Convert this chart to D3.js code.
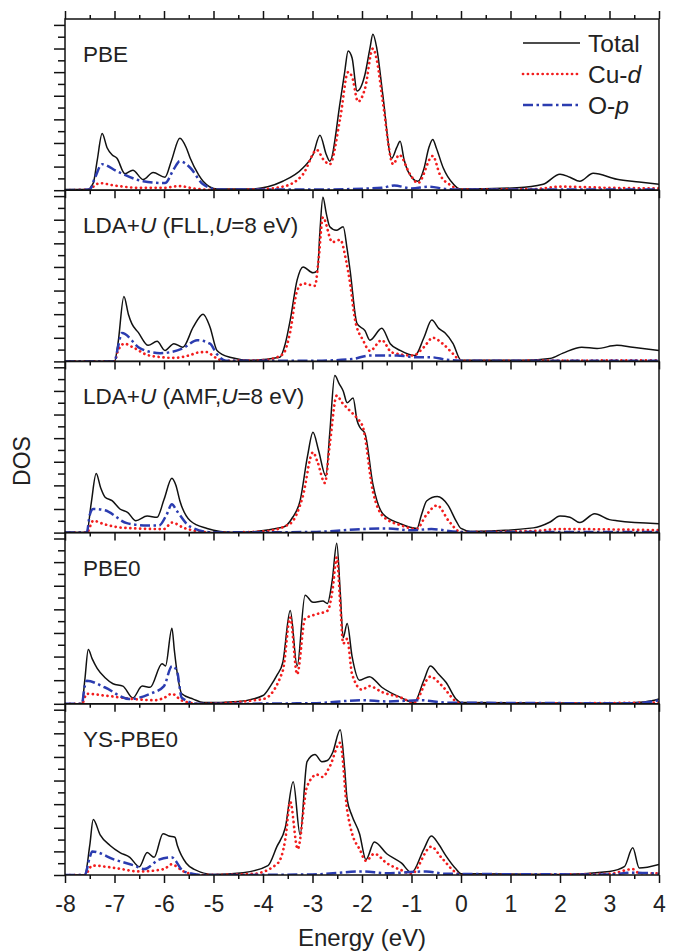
<!DOCTYPE html>
<html>
<head>
<meta charset="utf-8">
<script src="https://cdn.jsdelivr.net/npm/d3@7"></script>
<style>
body { margin: 0; background: #fff; overflow: hidden; }
</style>
</head>
<body>
<script>
// panel labels, [text, italic] segments
const panelLabels = [
    [["PBE", false]],
    [["LDA+", false], ["U", true], [" (FLL,", false], ["U", true], ["=8 eV)", false]],
    [["LDA+", false], ["U", true], [" (AMF,", false], ["U", true], ["=8 eV)", false]],
    [["PBE0", false]],
    [["YS-PBE0", false]]
];

const xTicks = [-8, -7, -6, -5, -4, -3, -2, -1, 0, 1, 2, 3, 4];

// [energy (eV), DOS]
const pbeTotal = [[-8,0.05],[-7.55,0.05],[-7.43,0.6],[-7.35,2.5],[-7.25,4.8],[-7.15,3.6],[-7.05,3.0],[-6.95,2.7],[-6.79,1.4],[-6.63,1.7],[-6.42,0.9],[-6.22,1.5],[-5.98,1.1],[-5.85,2.5],[-5.68,4.4],[-5.55,3.6],[-5.47,2.7],[-5.3,1.3],[-5.21,0.76],[-4.93,0.1],[-4.26,0.1],[-3.6,0.76],[-3.19,1.9],[-2.99,3.0],[-2.85,4.66],[-2.72,3.0],[-2.65,2.46],[-2.44,7.5],[-2.35,10],[-2.28,11.8],[-2.2,11.2],[-2.1,8.4],[-1.94,9.8],[-1.84,12],[-1.78,13.2],[-1.7,12],[-1.58,8.1],[-1.4,2.7],[-1.3,3.6],[-1.23,4.15],[-1.15,2.6],[-1.07,1.6],[-0.87,0.76],[-0.75,1.8],[-0.65,3.6],[-0.57,4.3],[-0.5,3.6],[-0.36,1.9],[-0.15,0.5],[-0.02,0.1],[1.13,0.2],[1.66,0.5],[2.0,1.36],[2.2,1.1],[2.4,0.76],[2.67,1.44],[3.15,0.93],[3.6,0.7],[4.0,0.5]];
const pbeCud = [[-8,0],[-7.5,0.05],[-7.4,0.4],[-7.3,0.6],[-7.0,0.4],[-6.5,0.2],[-6.0,0.2],[-5.7,0.35],[-5.4,0.15],[-5.0,0.02],[-4.2,0.05],[-3.6,0.3],[-3.19,1.36],[-2.91,3.4],[-2.78,2.6],[-2.65,2.2],[-2.44,6.1],[-2.28,10],[-2.2,9.6],[-2.08,7.5],[-1.94,8.6],[-1.78,12],[-1.7,11],[-1.58,7.5],[-1.37,2.2],[-1.25,3.0],[-1.03,1.36],[-0.87,0.6],[-0.57,2.9],[-0.43,1.36],[-0.2,0.4],[0,0.05],[1.5,0.1],[2.0,0.3],[3.0,0.2],[4.0,0.15]];
const pbeOp = [[-8,0],[-7.5,0.05],[-7.4,1.0],[-7.25,2.2],[-6.95,1.6],[-6.42,0.76],[-5.98,0.6],[-5.8,1.8],[-5.68,2.46],[-5.47,1.9],[-5.21,0.5],[-4.9,0.05],[-3,0.05],[-1.6,0.2],[-1.35,0.4],[-1.0,0.15],[-0.65,0.3],[-0.3,0.1],[0,0.05],[4,0.05]];

const fllTotal = [[-8,0],[-7.0,0],[-6.93,1.5],[-6.81,5.5],[-6.72,4.0],[-6.65,3.2],[-6.52,2.46],[-6.32,1.36],[-6.14,1.7],[-5.98,0.93],[-5.8,1.5],[-5.62,1.2],[-5.41,2.9],[-5.21,4.0],[-5.07,2.9],[-4.93,0.93],[-4.67,0.35],[-4.26,0.1],[-3.66,0.35],[-3.55,1.5],[-3.45,3.5],[-3.31,6.9],[-3.19,8.0],[-2.99,7.5],[-2.9,7.7],[-2.85,11],[-2.79,13.9],[-2.72,12.5],[-2.65,11.4],[-2.52,11.1],[-2.38,11.4],[-2.3,9.5],[-2.24,7.7],[-2.1,3.2],[-1.94,2.6],[-1.84,1.8],[-1.6,2.8],[-1.43,1.5],[-1.23,0.93],[-0.93,0.5],[-0.75,2.0],[-0.59,3.5],[-0.45,2.8],[-0.32,2.4],[-0.16,1.5],[0,0.1],[1.3,0.1],[1.8,0.25],[2.06,0.7],[2.44,1.2],[2.75,1.1],[3.15,1.36],[3.47,1.2],[4,0.93]];
const fllCud = [[-8,0],[-7.0,0],[-6.93,0.9],[-6.8,1.5],[-6.63,1.2],[-6.3,0.5],[-5.8,0.3],[-5.5,0.5],[-5.3,0.76],[-5.15,0.8],[-4.95,0.3],[-4.8,0.05],[-4.0,0.1],[-3.6,0.6],[-3.45,2.5],[-3.31,6.0],[-3.19,6.6],[-2.95,6.4],[-2.88,8.5],[-2.79,12.2],[-2.6,10.1],[-2.44,10.3],[-2.32,8.5],[-2.24,6.6],[-2.14,3.5],[-1.98,1.8],[-1.84,0.9],[-1.6,1.8],[-1.4,0.76],[-0.97,0.5],[-0.75,1.2],[-0.57,2.0],[-0.37,1.5],[-0.15,0.6],[0,0.05],[4,0.1]];
const fllOp = [[-8,0],[-7.0,0],[-6.93,1.2],[-6.85,2.4],[-6.48,1.1],[-6.08,0.7],[-5.62,1.1],[-5.33,1.8],[-5.07,1.5],[-4.93,0.6],[-4.75,0.05],[-3,0.05],[-2.2,0.2],[-1.84,0.5],[-1.3,0.5],[-0.9,0.35],[-0.6,0.35],[-0.3,0.15],[0,0.05],[4,0.05]];

const amfTotal = [[-8,0],[-7.56,0],[-7.47,2.5],[-7.37,5.0],[-7.28,3.8],[-7.19,3.0],[-7.05,2.7],[-6.89,2.0],[-6.73,1.7],[-6.57,1.0],[-6.34,1.4],[-6.14,1.3],[-6.0,2.8],[-5.84,4.6],[-5.76,4.0],[-5.68,2.7],[-5.47,1.0],[-5.13,0.35],[-4.6,0.0],[-3.6,0.45],[-3.4,1.3],[-3.25,2.7],[-3.1,6.5],[-2.99,8.5],[-2.88,7.0],[-2.73,4.8],[-2.65,8.5],[-2.55,13.3],[-2.46,12.6],[-2.38,12.0],[-2.3,11.0],[-2.18,11.4],[-2.1,9.5],[-2.04,8.9],[-1.94,8.4],[-1.78,4.1],[-1.58,1.6],[-1.23,0.76],[-0.89,0.35],[-0.8,1.5],[-0.69,2.7],[-0.48,3.05],[-0.26,2.3],[-0.1,1.0],[0,0.35],[0.2,0.1],[1.46,0.4],[1.8,0.9],[2.0,1.4],[2.2,1.3],[2.4,0.85],[2.7,1.6],[3.0,1.1],[3.15,1.0],[4,0.76]];
const amfCud = [[-8,0],[-7.56,0],[-7.43,1.0],[-7.2,0.7],[-6.8,0.4],[-6.0,0.3],[-5.84,0.85],[-5.6,0.4],[-5.3,0.1],[-5.0,0],[-4.0,0.1],[-3.45,0.76],[-3.2,3.0],[-2.99,6.8],[-2.9,6.0],[-2.75,4.2],[-2.65,7.5],[-2.51,11.6],[-2.4,11.0],[-2.24,10.3],[-2.1,9.7],[-1.98,8.9],[-1.78,3.5],[-1.58,1.4],[-1.2,0.6],[-0.9,0.3],[-0.7,1.5],[-0.48,2.3],[-0.25,1.0],[0,0.05],[1.5,0.15],[2.0,0.3],[4,0.2]];
const amfOp = [[-8,0],[-7.56,0],[-7.5,1.5],[-7.43,2.0],[-7.2,1.9],[-6.75,0.8],[-6.34,0.6],[-6.1,0.6],[-5.95,1.5],[-5.84,2.4],[-5.75,1.9],[-5.47,0.5],[-5.0,0.02],[-3,0.05],[-2.0,0.3],[-1.5,0.35],[-1.0,0.2],[-0.6,0.3],[0,0.05],[4,0.05]];

const pbe0Total = [[-8,0],[-7.66,0],[-7.6,2.0],[-7.53,4.6],[-7.45,3.8],[-7.35,3.0],[-7.19,2.2],[-7.03,1.7],[-6.83,1.5],[-6.63,0.5],[-6.44,1.5],[-6.28,1.4],[-6.04,3.4],[-5.97,3.2],[-5.84,6.4],[-5.79,4.5],[-5.74,2.8],[-5.64,0.85],[-5.41,0.4],[-5.2,0.1],[-4.5,0.2],[-4.0,0.7],[-3.85,1.5],[-3.72,2.4],[-3.6,3.5],[-3.45,7.9],[-3.31,3.2],[-3.15,9.2],[-2.99,8.6],[-2.79,8.7],[-2.7,8.5],[-2.6,10.5],[-2.51,13.6],[-2.44,9.5],[-2.38,5.6],[-2.3,6.8],[-2.2,4.0],[-2.05,2.0],[-1.85,2.3],[-1.6,1.4],[-1.2,0.5],[-0.95,0.1],[-0.75,2.0],[-0.62,3.2],[-0.45,2.5],[-0.3,1.8],[-0.1,0.4],[0,0.1],[3.0,0.05],[3.7,0.15],[4,0.4]];
const pbe0Cud = [[-8,0],[-7.66,0],[-7.56,0.85],[-7.2,0.7],[-6.6,0.4],[-6.2,0.3],[-6.0,0.5],[-5.84,0.85],[-5.65,0.3],[-5.3,0],[-4,0.4],[-3.6,2.8],[-3.45,7.3],[-3.31,2.5],[-3.15,7.2],[-2.91,7.6],[-2.69,7.9],[-2.6,9.5],[-2.51,12.4],[-2.44,8.5],[-2.38,5.1],[-2.3,5.5],[-2.2,2.5],[-2.0,1.2],[-1.85,1.5],[-1.6,1.0],[-1.2,0.5],[-0.95,0.1],[-0.62,2.3],[-0.4,1.6],[-0.1,0.2],[0,0],[4,0.1]];
const pbe0Op = [[-8,0],[-7.66,0],[-7.6,1.5],[-7.56,1.95],[-7.2,1.4],[-6.7,0.4],[-6.28,0.85],[-6.0,1.5],[-5.84,3.2],[-5.74,2.8],[-5.64,0.5],[-5.3,0],[-3,0.05],[-2.0,0.3],[-1.5,0.2],[-0.8,0.3],[-0.3,0.1],[3.5,0.05],[4,0.3]];

const ysTotal = [[-8,0],[-7.6,0],[-7.5,2.5],[-7.43,4.7],[-7.29,3.4],[-7.09,2.5],[-6.89,1.9],[-6.69,1.5],[-6.5,0.7],[-6.34,1.9],[-6.2,1.5],[-6.02,3.5],[-5.9,3.3],[-5.78,3.2],[-5.73,2.5],[-5.55,1.0],[-5.4,0.5],[-5.0,0.05],[-4.4,0.2],[-3.9,0.8],[-3.72,2.4],[-3.55,4.0],[-3.39,7.9],[-3.25,3.4],[-3.11,9.6],[-2.95,10.2],[-2.81,9.6],[-2.7,9.7],[-2.59,10.4],[-2.44,12.3],[-2.35,9.0],[-2.3,6.4],[-2.2,5.0],[-2.05,3.5],[-1.92,1.3],[-1.75,2.8],[-1.5,1.8],[-1.2,1.0],[-1.0,0.2],[-0.75,2.2],[-0.6,3.3],[-0.45,2.6],[-0.3,1.6],[-0.1,0.5],[0,0.1],[2.0,0.05],[3.0,0.3],[3.3,0.7],[3.47,2.3],[3.6,0.6],[4,0.9]];
const ysCud = [[-8,0],[-7.6,0],[-7.45,0.8],[-7.0,0.6],[-6.5,0.3],[-6.0,0.5],[-5.85,0.9],[-5.6,0.3],[-5.3,0],[-4.2,0.1],[-3.7,1.0],[-3.55,3.0],[-3.45,6.2],[-3.3,2.2],[-3.11,7.5],[-2.91,8.5],[-2.8,8.3],[-2.65,9.2],[-2.44,11.2],[-2.3,5.5],[-2.2,3.5],[-2.05,2.2],[-1.92,1.2],[-1.75,1.8],[-1.5,1.0],[-1.2,0.4],[-1.0,0.1],[-0.6,2.4],[-0.4,1.5],[-0.1,0.2],[0,0],[3.0,0.1],[3.47,0.5],[3.6,0.15],[4,0.15]];
const ysOp = [[-8,0],[-7.6,0],[-7.5,1.5],[-7.45,2.0],[-7.0,1.3],[-6.6,0.8],[-6.4,0.5],[-6.1,1.3],[-5.85,1.5],[-5.6,0.3],[-5.2,0],[-3,0.05],[-2.0,0.3],[-1.5,0.15],[-0.7,0.3],[-0.3,0.1],[3.0,0.05],[3.47,0.2],[4,0.1]];

const panels = [
    {label: panelLabels[0], total: pbeTotal, cud: pbeCud, op: pbeOp},
    {label: panelLabels[1], total: fllTotal, cud: fllCud, op: fllOp},
    {label: panelLabels[2], total: amfTotal, cud: amfCud, op: amfOp},
    {label: panelLabels[3], total: pbe0Total, cud: pbe0Cud, op: pbe0Op},
    {label: panelLabels[4], total: ysTotal, cud: ysCud, op: ysOp}
];

const FONT = '"Liberation Sans", Arial, sans-serif';
const styles = {
    total: {stroke: "#111", width: 1.5, dash: null, cap: "butt"},
    cud: {stroke: "#f21d1d", width: 2.7, dash: "0.1,4.8", cap: "round"},
    op: {stroke: "#2b3cb0", width: 2.5, dash: "10,3.5,2.5,3.5", cap: "butt"}
};

const W = 679, H = 951;
const plot = {left: 65, right: 659, top: 19, bottom: 875};
const panelH = (plot.bottom - plot.top) / panels.length;

const svg = d3.select("body").append("svg")
    .attr("width", W)
    .attr("height", H)
    .style("font-family", FONT);

const xScale = d3.scaleLinear().domain([-8, 4]).range([plot.left, plot.right]);

function styleAxis(g) {
    g.select(".domain").remove();
    g.selectAll(".tick line").attr("stroke", "#111").attr("stroke-width", 1.5);
}

function renderPanel(p, i) {
    const top = plot.top + i * panelH;
    const bottom = top + panelH;
    const yScale = d3.scaleLinear().domain([0, 14.5]).range([bottom, top]);

    const clipId = "clip" + i;
    svg.append("clipPath").attr("id", clipId)
        .append("rect")
        .attr("x", plot.left).attr("y", top)
        .attr("width", plot.right - plot.left).attr("height", panelH);

    const line = d3.line()
        .x((d) => xScale(d[0]))
        .y((d) => yScale(d[1]))
        .curve(d3.curveMonotoneX);

    const g = svg.append("g").attr("clip-path", "url(#" + clipId + ")");
    ["total", "cud", "op"].forEach((key) => {
        const s = styles[key];
        g.append("path")
            .datum(p[key])
            .attr("fill", "none")
            .attr("stroke", s.stroke)
            .attr("stroke-width", s.width)
            .attr("stroke-dasharray", s.dash)
            .attr("stroke-linecap", s.cap)
            .attr("stroke-linejoin", "round")
            .attr("d", line);
    });

    // bottom ticks, pointing down
    const isLast = i === panels.length - 1;
    svg.append("g")
        .attr("transform", "translate(0," + bottom + ")")
        .call(d3.axisBottom(xScale).tickValues(xTicks).tickSize(8).tickPadding(13)
            .tickFormat(isLast ? (d) => String(d) : ""))
        .call(styleAxis)
        .selectAll("text")
        .attr("fill", "#222")
        .style("font-size", "23px")
        .style("font-family", FONT);
    svg.append("g")
        .attr("transform", "translate(0," + bottom + ")")
        .call(d3.axisBottom(xScale).tickValues(d3.range(-7.5, 4, 1)).tickSize(4).tickFormat(""))
        .call(styleAxis);

    if (i === 0) {
        svg.append("g")
            .attr("transform", "translate(0," + top + ")")
            .call(d3.axisTop(xScale).tickValues(xTicks).tickSize(8).tickFormat(""))
            .call(styleAxis);
        svg.append("g")
            .attr("transform", "translate(0," + top + ")")
            .call(d3.axisTop(xScale).tickValues(d3.range(-7.5, 4, 1)).tickSize(4).tickFormat(""))
            .call(styleAxis);
    }

    // left ticks
    svg.append("g")
        .attr("transform", "translate(" + plot.left + ",0)")
        .call(d3.axisLeft(yScale).tickValues(d3.range(0, 15, 2)).tickSize(11).tickFormat(""))
        .call(styleAxis);
    svg.append("g")
        .attr("transform", "translate(" + plot.left + ",0)")
        .call(d3.axisLeft(yScale).tickValues(d3.range(1, 15, 2)).tickSize(7).tickFormat(""))
        .call(styleAxis);

    svg.append("rect")
        .attr("x", plot.left).attr("y", top)
        .attr("width", plot.right - plot.left).attr("height", panelH)
        .attr("fill", "none")
        .attr("stroke", "#111")
        .attr("stroke-width", 1.5);

    const label = svg.append("text")
        .attr("x", 83)
        .attr("y", top + 43)
        .attr("fill", "#222")
        .style("font-size", "22.5px");
    p.label.forEach((seg) => {
        label.append("tspan")
            .style("font-style", seg[1] ? "italic" : "normal")
            .text(seg[0]);
    });
}

panels.forEach(renderPanel);

// legend
const legendItems = [
    {key: "total", text: [["Total", false]]},
    {key: "cud", text: [["Cu-", false], ["d", true]]},
    {key: "op", text: [["O-", false], ["p", true]]}
];
legendItems.forEach((item, k) => {
    const y = 43 + k * 31;
    const s = styles[item.key];
    svg.append("line")
        .attr("x1", 523).attr("x2", 580)
        .attr("y1", y).attr("y2", y)
        .attr("stroke", s.stroke)
        .attr("stroke-width", s.width)
        .attr("stroke-dasharray", s.dash)
        .attr("stroke-linecap", s.cap);
    const t = svg.append("text")
        .attr("x", 588)
        .attr("y", y)
        .attr("dy", "0.36em")
        .attr("fill", "#222")
        .style("font-size", "24.5px");
    item.text.forEach((seg) => {
        t.append("tspan").style("font-style", seg[1] ? "italic" : "normal").text(seg[0]);
    });
});

svg.append("text")
    .attr("x", (plot.left + plot.right) / 2)
    .attr("y", 946)
    .attr("text-anchor", "middle")
    .attr("fill", "#222")
    .style("font-size", "24px")
    .text("Energy (eV)");

svg.append("text")
    .attr("transform", "translate(30," + 461 + ") rotate(-90)")
    .attr("text-anchor", "middle")
    .attr("fill", "#222")
    .style("font-size", "23px")
    .text("DOS");
</script>
</body>
</html>
